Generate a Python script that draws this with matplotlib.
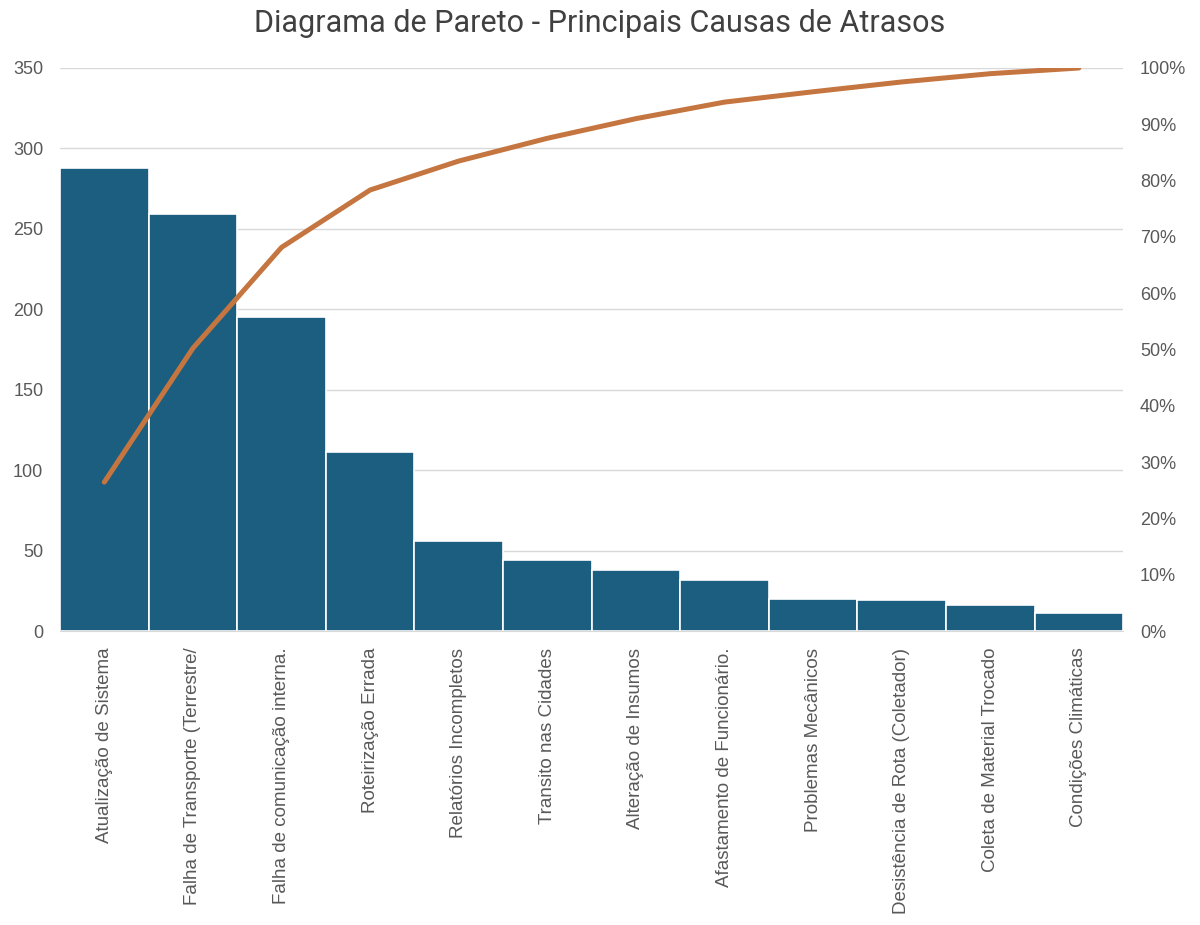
import matplotlib.pyplot as plt
import numpy as np
from matplotlib.ticker import PercentFormatter

# causas de atraso e ocorrencias
causas = [
    "Atualização de Sistema",
    "Falha de Transporte (Terrestre/",
    "Falha de comunicação interna.",
    "Roteirização Errada",
    "Relatórios Incompletos",
    "Transito nas Cidades",
    "Alteração de Insumos",
    "Afastamento de Funcionário.",
    "Problemas Mecânicos",
    "Desistência de Rota (Coletador)",
    "Coleta de Material Trocado",
    "Condições Climáticas",
]
ocorrencias = [288, 259, 195, 111, 56, 44, 38, 32, 20, 19, 16, 11]

y_ticks = [0, 50, 100, 150, 200, 250, 300, 350]

acumulado = np.cumsum(ocorrencias) / np.sum(ocorrencias)

plt.rcParams["font.family"] = ["Liberation Sans", "DejaVu Sans"]

fig = plt.figure(figsize=(12, 9.25), dpi=100)
ax = fig.add_axes([0.05, 0.3178, 0.886, 0.6087])
x = np.arange(len(causas))

ax.bar(x, ocorrencias, width=1.0, color="#1b5e7f", edgecolor="white", linewidth=1.2, zorder=2)
ax.set_xlim(-0.5, len(causas) - 0.5)
ax.set_ylim(0, 350)
ax.set_yticks(y_ticks)
ax.grid(axis="y", color="#d9d9d9", linewidth=1, zorder=0)
ax.set_axisbelow(True)
for s in ax.spines.values():
    s.set_visible(False)
ax.spines["bottom"].set_visible(True)
ax.spines["bottom"].set_color("#d9d9d9")
ax.tick_params(axis="y", length=0, labelsize=13, colors="#595959", pad=12)
ax.tick_params(axis="x", length=0, labelsize=13.5, colors="#595959", pad=12)
ax.set_xticks(x)
ax.set_xticklabels(causas, rotation=90, va="top", ha="center")

ax2 = ax.twinx()
ax2.plot(x, acumulado, color="#c5753f", linewidth=3.6, solid_capstyle="round", zorder=3)
ax2.set_ylim(0, 1)
ax2.set_yticks(np.arange(0, 1.01, 0.1))
ax2.yaxis.set_major_formatter(PercentFormatter(1.0, decimals=0))
ax2.tick_params(axis="y", length=0, labelsize=13, colors="#595959", pad=12)
for s in ax2.spines.values():
    s.set_visible(False)

fig.suptitle("Diagrama de Pareto - Principais Causas de Atrasos", y=0.99,
             fontsize=22, color="#404040", family=["Roboto", "DejaVu Sans"])

fig.savefig("out.png", dpi=100)
